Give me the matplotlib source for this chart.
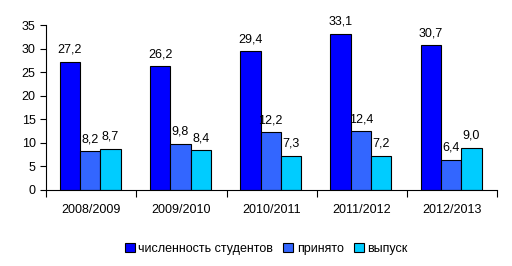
import numpy as np
import matplotlib
matplotlib.use("Agg")
import matplotlib.pyplot as plt

plt.rcParams['font.family'] = ['Liberation Sans', 'DejaVu Sans']

# данные
years = ["2008/2009", "2009/2010", "2010/2011", "2011/2012", "2012/2013"]
students = [27.2, 26.2, 29.4, 33.1, 30.7]
admitted = [8.2, 9.8, 12.2, 12.4, 6.4]
graduated = [8.7, 8.4, 7.3, 7.2, 9.0]
series_names = ["численность студентов", "принято", "выпуск"]
colors = ["#0000FF", "#3366FF", "#00CCFF"]

fig = plt.figure(figsize=(5.12, 2.66), dpi=100)
ax = fig.add_axes([0.09, 0.286, 0.881, 0.62])

x = np.arange(len(years))
w = 0.225
bars = []
for i, vals in enumerate([students, admitted, graduated]):
    b = ax.bar(x + (i - 1) * w - 0.01, vals, w, color=colors[i], edgecolor="black",
               linewidth=0.8, label=series_names[i])
    bars.append(b)
    for rect, v in zip(b, vals):
        ax.text(rect.get_x() + rect.get_width() / 2, v + 1.3,
                f"{v:.1f}".replace(".", ","), ha="center", va="bottom", fontsize=9)

ax.set_xlim(-0.5, 4.5)
ax.set_ylim(0, 35)
ax.set_yticks(range(0, 36, 5))
ax.tick_params(axis="y", labelsize=9, length=4, direction="out")
ax.set_xticks(np.arange(-0.5, 5, 1))
ax.set_xticklabels([])
ax.set_xticks(x, minor=True)
ax.set_xticklabels(years, minor=True, fontsize=9)
ax.tick_params(axis="x", which="major", length=5, direction="out")
ax.tick_params(axis="x", which="minor", length=0, pad=10)
for s in ["top", "right"]:
    ax.spines[s].set_visible(False)

fig.legend(handles=bars, loc="center", bbox_to_anchor=(0.52, 0.065), ncol=3,
           frameon=False, fontsize=9, handlelength=0.8, handleheight=0.8,
           handletextpad=0.3, columnspacing=0.8)

fig.savefig("out.png", dpi=100)
